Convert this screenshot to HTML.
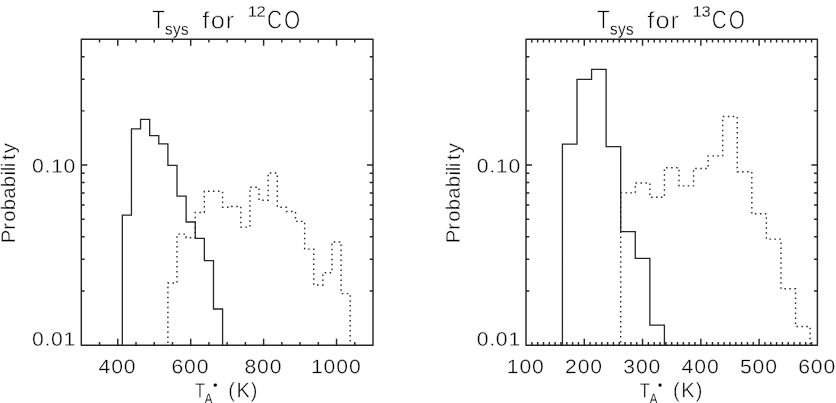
<!DOCTYPE html>
<html><head><meta charset="utf-8"><title>Tsys histograms</title>
<style>
html,body{margin:0;padding:0;background:#fff;}
body{width:836px;height:403px;overflow:hidden;}
svg{display:block;}
text{font-family:"Liberation Sans",sans-serif;fill:#000;text-rendering:geometricPrecision;}
</style></head><body>
<svg width="836" height="403" viewBox="0 0 836 403">
<rect width="836" height="403" fill="#fff"/>
<rect x="81.30" y="39.20" width="291.70" height="306.00" fill="none" stroke="#262626" stroke-width="1.45" stroke-linejoin="round"/>
<path d="M99.53 345.20v-3.3M99.53 39.20v3.3M117.76 345.20v-6.5M117.76 39.20v6.5M135.99 345.20v-3.3M135.99 39.20v3.3M154.22 345.20v-3.3M154.22 39.20v3.3M172.46 345.20v-3.3M172.46 39.20v3.3M190.69 345.20v-6.5M190.69 39.20v6.5M208.92 345.20v-3.3M208.92 39.20v3.3M227.15 345.20v-3.3M227.15 39.20v3.3M245.38 345.20v-3.3M245.38 39.20v3.3M263.61 345.20v-6.5M263.61 39.20v6.5M281.84 345.20v-3.3M281.84 39.20v3.3M300.07 345.20v-3.3M300.07 39.20v3.3M318.31 345.20v-3.3M318.31 39.20v3.3M336.54 345.20v-6.5M336.54 39.20v6.5M354.77 345.20v-3.3M354.77 39.20v3.3M81.30 290.98h3.3M373.00 290.98h-3.3M81.30 259.27h3.3M373.00 259.27h-3.3M81.30 236.76h3.3M373.00 236.76h-3.3M81.30 219.31h3.3M373.00 219.31h-3.3M81.30 205.05h3.3M373.00 205.05h-3.3M81.30 192.99h3.3M373.00 192.99h-3.3M81.30 182.55h3.3M373.00 182.55h-3.3M81.30 173.33h3.3M373.00 173.33h-3.3M81.30 165.09h6.0M373.00 165.09h-6.0M81.30 110.87h3.3M373.00 110.87h-3.3M81.30 79.16h3.3M373.00 79.16h-3.3M81.30 56.65h3.3M373.00 56.65h-3.3" stroke="#262626" stroke-width="1.45" fill="none"/>
<path d="M167.90 345.20L167.90 283.00L177.01 283.00L177.01 234.10L186.13 234.10L186.13 237.70L195.25 237.70L195.25 212.50L204.36 212.50L204.36 191.30L213.48 191.30L213.48 191.30L222.59 191.30L222.59 207.20L231.71 207.20L231.71 206.50L240.82 206.50L240.82 227.10L249.94 227.10L249.94 187.20L259.05 187.20L259.05 200.20L268.17 200.20L268.17 173.00L277.29 173.00L277.29 207.20L286.40 207.20L286.40 211.50L295.52 211.50L295.52 221.40L304.63 221.40L304.63 249.10L313.75 249.10L313.75 285.00L322.86 285.00L322.86 272.80L331.98 272.80L331.98 242.00L341.10 242.00L341.10 293.60L350.21 293.60L350.21 345.20" stroke="#262626" stroke-width="1.4" stroke-dasharray="1.5 3.475" stroke-dashoffset="2.75" fill="none"/>
<path d="M122.32 345.20L122.32 215.10L131.44 215.10L131.44 128.90L140.55 128.90L140.55 119.40L149.67 119.40L149.67 135.60L158.78 135.60L158.78 143.90L167.90 143.90L167.90 165.40L177.01 165.40L177.01 196.20L186.13 196.20L186.13 222.00L195.25 222.00L195.25 238.40L204.36 238.40L204.36 260.70L213.48 260.70L213.48 309.00L222.59 309.00L222.59 345.20" stroke="#262626" stroke-width="1.3" fill="none" stroke-linejoin="miter"/>
<text transform="matrix(0.796 0.002 -0.002 1 152.26 28.57)" font-size="26.09" stroke="#fff" stroke-width="0.74" >T</text>
<text x="0.00 8.58 17.20" y="0" font-size="16.40" transform="matrix(0.930 0.002 -0.002 1 165.09 34.60)" stroke="#fff" stroke-width="0.18" >sys</text>
<text x="0.00 7.69 21.64" y="0" font-size="23.50" transform="matrix(1.080 0.002 -0.002 1 202.33 28.20)" stroke="#fff" stroke-width="0.58" >for</text>
<text x="0.00 7.96" y="0" font-size="14.80" transform="matrix(1.120 0.002 -0.002 1 247.67 16.50)" stroke="#fff" stroke-width="0.18" >12</text>
<text x="0.00 21.32" y="0" font-size="26.00" transform="matrix(0.800 0.002 -0.002 1 266.89 28.60)" stroke="#fff" stroke-width="0.73" >CO</text>
<text x="0.00 11.51 17.57 29.28" y="0" font-size="19.60" transform="matrix(1.080 0.002 -0.002 1 31.96 172.60)" stroke="#fff" stroke-width="0.34" >0.10</text>
<text x="0.00 11.51 17.57 29.28" y="0" font-size="19.60" transform="matrix(1.080 0.002 -0.002 1 31.96 345.80)" stroke="#fff" stroke-width="0.34" >0.01</text>
<text x="0.00 12.89 20.59 31.59 42.76 53.80 65.10 69.14 72.99 79.98 86.47" y="0" font-size="19.60" transform="matrix(0.002 -1.040 1 0.002 14.90 243.15)" stroke="#fff" stroke-width="0.34" >Probability</text>
<text x="0.00 11.71 23.43" y="0" font-size="19.60" transform="matrix(1.080 0.002 -0.002 1 98.53 373.30)" stroke="#fff" stroke-width="0.34" >400</text>
<text x="0.00 11.71 23.43" y="0" font-size="19.60" transform="matrix(1.080 0.002 -0.002 1 171.45 373.30)" stroke="#fff" stroke-width="0.34" >600</text>
<text x="0.00 11.71 23.43" y="0" font-size="19.60" transform="matrix(1.080 0.002 -0.002 1 244.38 373.30)" stroke="#fff" stroke-width="0.34" >800</text>
<text x="0.00 11.71 23.43 35.14" y="0" font-size="19.60" transform="matrix(1.080 0.002 -0.002 1 310.98 373.30)" stroke="#fff" stroke-width="0.34" >1000</text>
<text transform="matrix(0.784 0.002 -0.002 1 194.99 397.50)" font-size="20.66" stroke="#fff" stroke-width="0.40" >T</text>
<text transform="matrix(0.830 0.002 -0.002 1 204.78 403.29)" font-size="13.79" stroke="#fff" stroke-width="0.18" >A</text>
<text transform="matrix(1.000 0.002 -0.002 1 212.88 389.51)" font-size="13.26" stroke="#fff" stroke-width="0.18" >•</text>
<text x="0.00 8.69 23.89" y="0" font-size="21.00" transform="matrix(0.950 0.002 -0.002 1 228.14 397.30)" stroke="#fff" stroke-width="0.42" >(K)</text>
<rect x="526.00" y="39.20" width="291.40" height="306.00" fill="none" stroke="#262626" stroke-width="1.45" stroke-linejoin="round"/>
<path d="M531.83 345.20v-3.3M531.83 39.20v3.3M537.66 345.20v-3.3M537.66 39.20v3.3M543.48 345.20v-3.3M543.48 39.20v3.3M549.31 345.20v-3.3M549.31 39.20v3.3M555.14 345.20v-3.3M555.14 39.20v3.3M560.97 345.20v-3.3M560.97 39.20v3.3M566.80 345.20v-3.3M566.80 39.20v3.3M572.62 345.20v-3.3M572.62 39.20v3.3M578.45 345.20v-3.3M578.45 39.20v3.3M584.28 345.20v-6.5M584.28 39.20v6.5M590.11 345.20v-3.3M590.11 39.20v3.3M595.94 345.20v-3.3M595.94 39.20v3.3M601.76 345.20v-3.3M601.76 39.20v3.3M607.59 345.20v-3.3M607.59 39.20v3.3M613.42 345.20v-3.3M613.42 39.20v3.3M619.25 345.20v-3.3M619.25 39.20v3.3M625.08 345.20v-3.3M625.08 39.20v3.3M630.90 345.20v-3.3M630.90 39.20v3.3M636.73 345.20v-3.3M636.73 39.20v3.3M642.56 345.20v-6.5M642.56 39.20v6.5M648.39 345.20v-3.3M648.39 39.20v3.3M654.22 345.20v-3.3M654.22 39.20v3.3M660.04 345.20v-3.3M660.04 39.20v3.3M665.87 345.20v-3.3M665.87 39.20v3.3M671.70 345.20v-3.3M671.70 39.20v3.3M677.53 345.20v-3.3M677.53 39.20v3.3M683.36 345.20v-3.3M683.36 39.20v3.3M689.18 345.20v-3.3M689.18 39.20v3.3M695.01 345.20v-3.3M695.01 39.20v3.3M700.84 345.20v-6.5M700.84 39.20v6.5M706.67 345.20v-3.3M706.67 39.20v3.3M712.50 345.20v-3.3M712.50 39.20v3.3M718.32 345.20v-3.3M718.32 39.20v3.3M724.15 345.20v-3.3M724.15 39.20v3.3M729.98 345.20v-3.3M729.98 39.20v3.3M735.81 345.20v-3.3M735.81 39.20v3.3M741.64 345.20v-3.3M741.64 39.20v3.3M747.46 345.20v-3.3M747.46 39.20v3.3M753.29 345.20v-3.3M753.29 39.20v3.3M759.12 345.20v-6.5M759.12 39.20v6.5M764.95 345.20v-3.3M764.95 39.20v3.3M770.78 345.20v-3.3M770.78 39.20v3.3M776.60 345.20v-3.3M776.60 39.20v3.3M782.43 345.20v-3.3M782.43 39.20v3.3M788.26 345.20v-3.3M788.26 39.20v3.3M794.09 345.20v-3.3M794.09 39.20v3.3M799.92 345.20v-3.3M799.92 39.20v3.3M805.74 345.20v-3.3M805.74 39.20v3.3M811.57 345.20v-3.3M811.57 39.20v3.3M526.00 290.98h3.3M817.40 290.98h-3.3M526.00 259.27h3.3M817.40 259.27h-3.3M526.00 236.76h3.3M817.40 236.76h-3.3M526.00 219.31h3.3M817.40 219.31h-3.3M526.00 205.05h3.3M817.40 205.05h-3.3M526.00 192.99h3.3M817.40 192.99h-3.3M526.00 182.55h3.3M817.40 182.55h-3.3M526.00 173.33h3.3M817.40 173.33h-3.3M526.00 165.09h6.0M817.40 165.09h-6.0M526.00 110.87h3.3M817.40 110.87h-3.3M526.00 79.16h3.3M817.40 79.16h-3.3M526.00 56.65h3.3M817.40 56.65h-3.3" stroke="#262626" stroke-width="1.45" fill="none"/>
<path d="M620.71 345.20L620.71 192.90L635.27 192.90L635.27 183.00L649.85 183.00L649.85 197.30L664.41 197.30L664.41 167.70L678.99 167.70L678.99 185.90L693.56 185.90L693.56 168.50L708.12 168.50L708.12 155.85L722.69 155.85L722.69 116.50L737.26 116.50L737.26 171.80L751.84 171.80L751.84 213.80L766.40 213.80L766.40 239.10L780.98 239.10L780.98 288.80L795.55 288.80L795.55 326.55L810.12 326.55L810.12 345.20" stroke="#262626" stroke-width="1.4" stroke-dasharray="1.5 3.475" stroke-dashoffset="2.15" fill="none"/>
<path d="M562.42 345.20L562.42 144.20L577.00 144.20L577.00 79.30L591.57 79.30L591.57 69.35L606.13 69.35L606.13 146.60L620.71 146.60L620.71 231.60L635.27 231.60L635.27 258.40L649.85 258.40L649.85 325.20L664.41 325.20L664.41 345.20" stroke="#262626" stroke-width="1.3" fill="none" stroke-linejoin="miter"/>
<text transform="matrix(0.796 0.002 -0.002 1 597.11 28.57)" font-size="26.09" stroke="#fff" stroke-width="0.74" >T</text>
<text x="0.00 8.58 17.20" y="0" font-size="16.40" transform="matrix(0.930 0.002 -0.002 1 609.94 34.60)" stroke="#fff" stroke-width="0.18" >sys</text>
<text x="0.00 7.69 21.64" y="0" font-size="23.50" transform="matrix(1.080 0.002 -0.002 1 647.18 28.20)" stroke="#fff" stroke-width="0.58" >for</text>
<text x="0.00 8.14" y="0" font-size="14.80" transform="matrix(1.120 0.002 -0.002 1 692.52 16.50)" stroke="#fff" stroke-width="0.18" >13</text>
<text x="0.00 21.31" y="0" font-size="26.00" transform="matrix(0.800 0.002 -0.002 1 711.74 28.60)" stroke="#fff" stroke-width="0.73" >CO</text>
<text x="0.00 11.51 17.57 29.28" y="0" font-size="19.60" transform="matrix(1.080 0.002 -0.002 1 476.81 172.60)" stroke="#fff" stroke-width="0.34" >0.10</text>
<text x="0.00 11.51 17.57 29.28" y="0" font-size="19.60" transform="matrix(1.080 0.002 -0.002 1 476.81 345.80)" stroke="#fff" stroke-width="0.34" >0.01</text>
<text x="0.00 12.89 20.59 31.59 42.76 53.80 65.10 69.14 72.99 79.98 86.47" y="0" font-size="19.60" transform="matrix(0.002 -1.040 1 0.002 459.75 243.15)" stroke="#fff" stroke-width="0.34" >Probability</text>
<text x="0.00 11.71 23.43" y="0" font-size="19.60" transform="matrix(1.080 0.002 -0.002 1 506.76 373.30)" stroke="#fff" stroke-width="0.34" >100</text>
<text x="0.00 11.71 23.43" y="0" font-size="19.60" transform="matrix(1.080 0.002 -0.002 1 565.04 373.30)" stroke="#fff" stroke-width="0.34" >200</text>
<text x="0.00 11.71 23.43" y="0" font-size="19.60" transform="matrix(1.080 0.002 -0.002 1 623.32 373.30)" stroke="#fff" stroke-width="0.34" >300</text>
<text x="0.00 11.71 23.43" y="0" font-size="19.60" transform="matrix(1.080 0.002 -0.002 1 681.60 373.30)" stroke="#fff" stroke-width="0.34" >400</text>
<text x="0.00 11.71 23.43" y="0" font-size="19.60" transform="matrix(1.080 0.002 -0.002 1 739.88 373.30)" stroke="#fff" stroke-width="0.34" >500</text>
<text x="0.00 11.71 23.43" y="0" font-size="19.60" transform="matrix(1.080 0.002 -0.002 1 798.16 373.30)" stroke="#fff" stroke-width="0.34" >600</text>
<text transform="matrix(0.784 0.002 -0.002 1 639.84 397.50)" font-size="20.66" stroke="#fff" stroke-width="0.40" >T</text>
<text transform="matrix(0.830 0.002 -0.002 1 649.63 403.29)" font-size="13.79" stroke="#fff" stroke-width="0.18" >A</text>
<text transform="matrix(1.000 0.002 -0.002 1 657.73 389.51)" font-size="13.26" stroke="#fff" stroke-width="0.18" >•</text>
<text x="0.00 8.69 23.89" y="0" font-size="21.00" transform="matrix(0.950 0.002 -0.002 1 672.99 397.30)" stroke="#fff" stroke-width="0.42" >(K)</text>
</svg>
</body></html>
